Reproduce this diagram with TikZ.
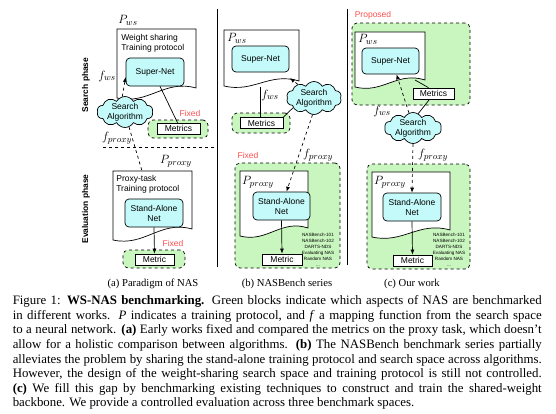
\documentclass[tikz,border=0pt]{standalone}
\usepackage{fontspec}
\setmainfont{Liberation Serif}
\setsansfont{Liberation Sans}
\usetikzlibrary{shapes.symbols,arrows.meta}

\definecolor{cyanfill}{RGB}{196,250,250}
\definecolor{greenfill}{RGB}{200,246,190}
\definecolor{fixedred}{RGB}{255,80,80}

\tikzset{
 diag/.style={font=\sffamily\fontsize{8.5}{10}\selectfont},
 netbox/.style={draw, rounded corners=4pt, fill=cyanfill, align=center, inner sep=0pt, diag},
 metbox/.style={draw, fill=white, inner sep=0pt, diag},
 grp/.style={draw, dashed, rounded corners=5pt, fill=greenfill, inner sep=0pt},
 cloudnode/.style={cloud, cloud puffs=10, cloud puff arc=120, aspect=1.8, draw, fill=cyanfill, inner sep=0pt},
 cloudtext/.style={diag, align=center, inner sep=0pt},
 redlab/.style={text=fixedred, diag, inner sep=0pt},
 mathlab/.style={inner sep=0pt, font=\fontsize{13}{15}\selectfont},
 prottext/.style={diag, align=left, inner sep=0pt, anchor=west},
 dasharr/.style={dashed, -{Latex[length=5pt,width=4pt]}},
 solarr/.style={-{Latex[length=5pt,width=4pt]}},
 phase/.style={rotate=90, font=\sffamily\bfseries\fontsize{8.4}{10}\selectfont, inner sep=0pt},
 bench/.style={font=\sffamily\fontsize{4.6}{6}\selectfont, align=center, inner sep=0pt},
 subcap/.style={font=\fontsize{10.65}{12}\selectfont, inner sep=0pt, anchor=base},
 captext/.style={anchor=north west, inner sep=0pt, text width=529pt, align=justify, font=\fontsize{12.85}{14.6}\selectfont},
 doc/.style={draw, fill=white},
}

% document shape: x0,y0,x1,yleft,yright
\newcommand\docshape[5]{%
 \path[doc] (#1,#2) -- (#3,#2) -- (#3,#5) .. controls ({#1+0.6*(#3-#1)},{#5-9}) and ({#1+0.4*(#3-#1)},{#4+7}) .. (#1,#4) -- cycle;}

\begin{document}
\begin{tikzpicture}[x=1pt,y=-1pt,line width=0.7pt]
\useasboundingbox (0,0) rectangle (556,413);

% ---------------- separators ----------------
\coordinate (v1a) at (217,9); \coordinate (v1b) at (217,267);
\coordinate (v2a) at (347,9); \coordinate (v2b) at (347,265);
\draw (v1a) -- (v1b);
\draw (v2a) -- (v2b);
\coordinate (hs1) at (103,147); \coordinate (hs2) at (215,147);
\draw[dashed] (hs1) -- (hs2);

% ---------------- panel (a) ----------------
\node[phase] (spa) at (86,85) {Search phase};
\node[phase] (epa) at (86,209) {Evaluation phase};

\node[grp, minimum width=60pt, minimum height=18pt] (mg1) at (178,129) {};
\node[grp, minimum width=62pt, minimum height=18pt] (mmg1) at (154,259) {};

\docshape{117}{29}{196}{98}{88}
\coordinate (d1top) at (142,171);
\docshape{113}{171}{192}{240}{229}

\node[mathlab] (pws1) at (128,20) {$P_{ws}$};
\node[prottext] (wst) at (121,43.5) {Weight sharing\\Training protocol};
\node[netbox, minimum width=58pt, minimum height=28pt] (sn1) at (155,72) {Super-Net};
\node[metbox, minimum width=43pt, minimum height=11pt] (met1) at (178.5,128.5) {Metrics};
\node[redlab] (fx1) at (190,113) {Fixed};
\draw ([xshift=5pt]sn1.south) -- ([xshift=-1pt]met1.north);

\node[cloudnode, minimum width=56pt, minimum height=31pt] (c1) at (125,112) {};
\node[cloudtext] (c1t) at (c1) {Search\\Algorithm};
\node[mathlab] (fws1) at (107,76) {$f_{ws}$};
\draw[dasharr] (c1.100) -- ([yshift=-5pt]sn1.west);
\node[mathlab] (fpx1) at (117,138) {$f_{proxy}$};
\draw[dashed] (c1.-75) -- (d1top);

\node[mathlab] (ppx1) at (176,161) {$P_{proxy}$};
\node[prottext] (ptt) at (116,184) {Proxy-task\\Training protocol};
\node[netbox, minimum width=58pt, minimum height=28pt] (sa1) at (154,213) {Stand-Alone\\Net};
\node[metbox, minimum width=39pt, minimum height=11pt] (mt1) at (154.5,259.5) {Metric};
\draw[solarr] (sa1.south) -- (mt1.north);
\node[redlab] (fx2) at (173,243) {Fixed};

\node[subcap] (capa) at (153,286) {(a) Paradigm of NAS};

% ---------------- panel (b) ----------------
\node[grp, minimum width=58pt, minimum height=20pt] (mg2) at (261,123) {};
\node[grp, minimum width=105pt, minimum height=105pt] (bg2) at (287.5,215.5) {};

\coordinate (d2b) at (260,87);
\coordinate (d2r) at (290,78);
\docshape{224}{30}{299}{86}{81}
\node[mathlab] (pws2) at (237,38) {$P_{ws}$};
\node[netbox, minimum width=57pt, minimum height=26pt] (sn2) at (260.5,59) {Super-Net};
\node[metbox, minimum width=43pt, minimum height=11pt] (met2) at (261.5,123) {Metrics};
\draw (d2b) -- (met2.north -| d2b);
\node[mathlab] (fws2) at (270,95) {$f_{ws}$};

\node[cloudnode, minimum width=55pt, minimum height=33pt] (c2) at (314,98) {};
\node[cloudtext] (c2t) at (c2) {Search\\Algorithm};
\draw[dasharr] (c2.140) -- (d2r);
\draw (c2.205) -- (met2.north east);

\node[redlab] (fx3) at (248,155) {Fixed};
\node[mathlab] (fpx2) at (318,155) {$f_{proxy}$};
\docshape{240}{171}{308}{236}{228}
\node[mathlab] (ppx2) at (258,182) {$P_{proxy}$};
\node[netbox, minimum width=57pt, minimum height=28pt] (sa2) at (281.5,206) {Stand-Alone\\Net};
\draw[dasharr] (c2.-95) -- ([xshift=5pt]sa2.north);
\node[metbox, minimum width=40pt, minimum height=11pt] (mt2) at (282,259.5) {Metric};
\draw[solarr] (sa2.south) -- (mt2.north);
\node[bench] (bl2) at (318,250) {NASBench-101\\NASBench-102\\DARTS-NDS\\Evaluating NAS\\Random NAS\\...};

\node[subcap] (capb) at (287,286) {(b) NASBench series};

% ---------------- panel (c) ----------------
\node[redlab] (prop) at (373,15) {Proposed};
\node[grp, minimum width=118pt, minimum height=82pt] (tg3) at (411,64) {};
\coordinate (d3b) at (415,80);
\docshape{355}{32}{425}{87}{80}
\node[mathlab] (pws3) at (368,39) {$P_{ws}$};
\node[netbox, minimum width=57pt, minimum height=26pt] (sn3) at (390.5,61) {Super-Net};
\node[metbox, minimum width=41pt, minimum height=11pt] (met3) at (433.5,93.5) {Metrics};
\draw (d3b) -- ([xshift=-5pt]met3.north);

\node[cloudnode, minimum width=57pt, minimum height=31pt] (c3) at (413,128) {};
\node[cloudtext] (c3t) at (c3) {Search\\Algorithm};
\draw ([xshift=-4pt]met3.south) -- (c3.70);
\draw[dasharr] (c3.105) -- ([xshift=6pt]sn3.south);
\node[mathlab] (fws3) at (382,111) {$f_{ws}$};

\node[grp, minimum width=103pt, minimum height=105pt] (bg3) at (418.5,216.5) {};
\node[mathlab] (fpx3) at (433,155) {$f_{proxy}$};
\docshape{372}{172}{450}{237}{230}
\node[mathlab] (ppx3) at (390,182) {$P_{proxy}$};
\node[netbox, minimum width=58pt, minimum height=28pt] (sa3) at (412,207) {Stand-Alone\\Net};
\draw[dasharr] (c3.south) -- (sa3.north);
\node[metbox, minimum width=39pt, minimum height=11pt] (mt3) at (412.5,260.5) {Metric};
\draw[solarr] (sa3.south) -- (mt3.north);
\node[bench] (bl3) at (449,250) {NASBench-101\\NASBench-102\\DARTS-NDS\\Evaluating NAS\\Random NAS\\...};

\node[subcap] (capc) at (412,286) {(c) Our work};

% ---------------- caption ----------------
\node[captext] (cap) at (12.4,295.2) {\hyphenpenalty=10000
Figure 1: \textbf{WS-NAS benchmarking.} Green blocks indicate which aspects of NAS are benchmarked\linebreak
in different works. \textit{P} indicates a training protocol, and \textit{f} a mapping function from the search space\linebreak
to a neural network. \textbf{(a)} Early works fixed and compared the metrics on the proxy task, which doesn't\linebreak
allow for a holistic comparison between algorithms. \textbf{(b)} The NASBench benchmark series partially\linebreak
alleviates the problem by sharing the stand-alone training protocol and search space across algorithms.\linebreak
However, the design of the weight-sharing search space and training protocol is still not controlled.\linebreak
\textbf{(c)} We fill this gap by benchmarking existing techniques to construct and train the shared-weight\linebreak
backbone. We provide a controlled evaluation across three benchmark spaces.};
\end{tikzpicture}
\end{document}
